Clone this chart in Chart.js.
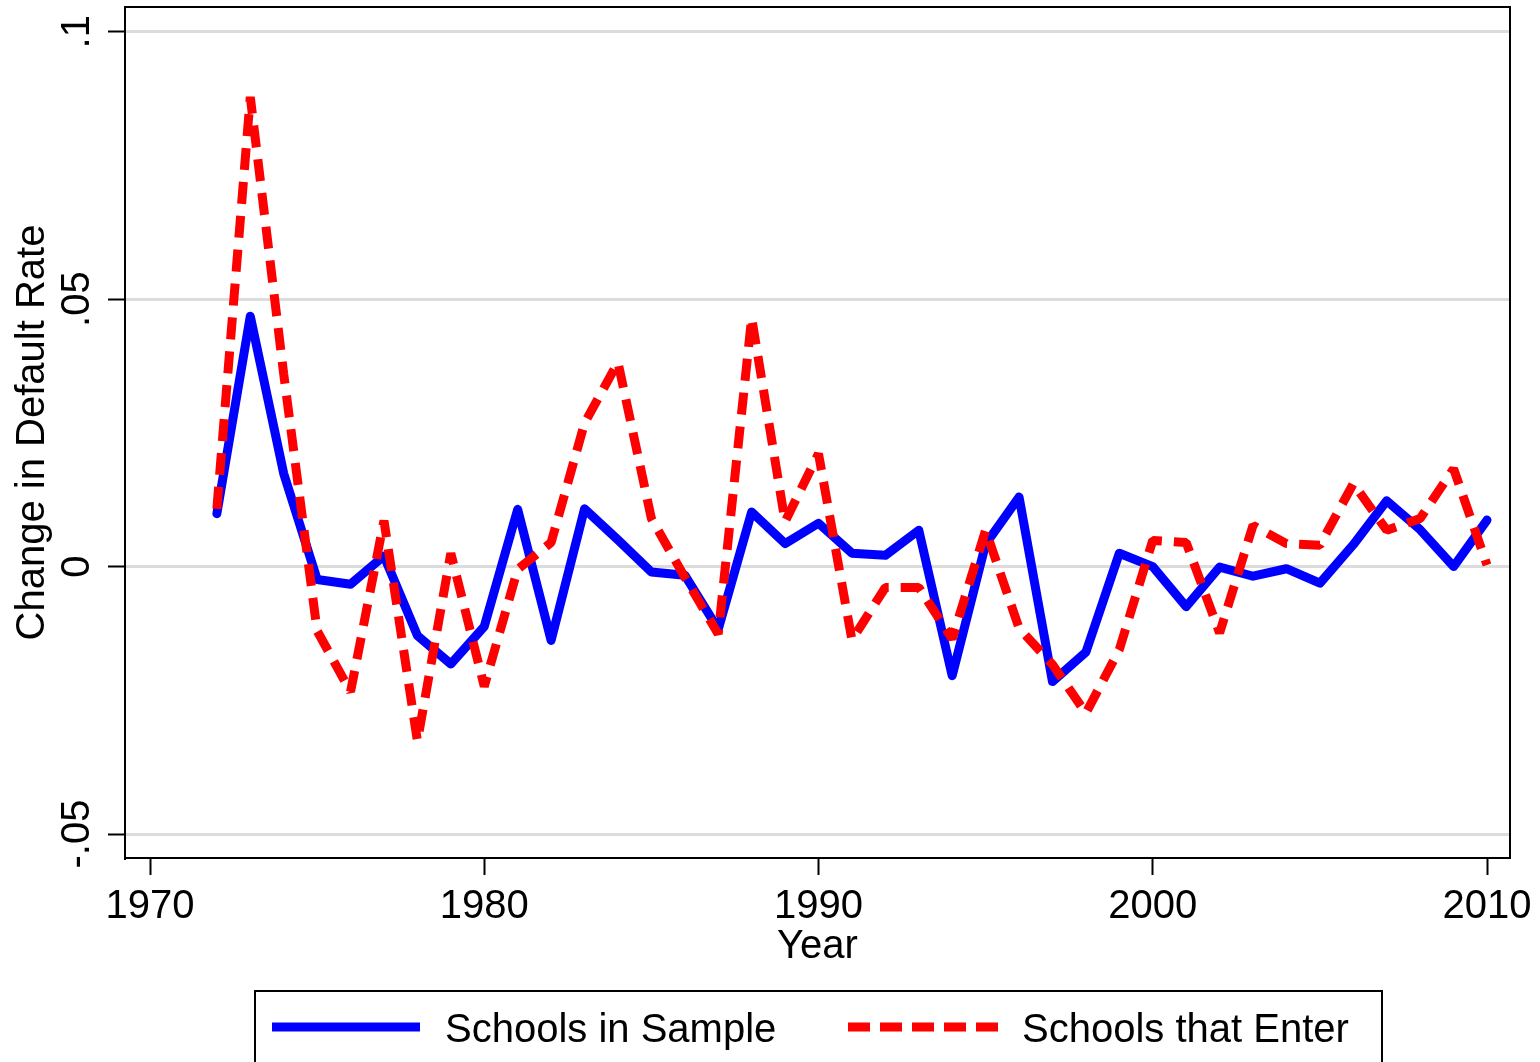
<!DOCTYPE html>
<html>
<head>
<meta charset="utf-8">
<script src="https://cdn.jsdelivr.net/npm/chart.js@4.4.1/dist/chart.umd.min.js"></script>
<style>
html,body{margin:0;padding:0;background:#fff;}
#wrap{width:1540px;height:1062px;}
</style>
</head>
<body>
<div id="wrap"><canvas id="c" width="1540" height="1062"></canvas></div>
<script>
// ---- data ----
const years = [1972,1973,1974,1975,1976,1977,1978,1979,1980,1981,1982,1983,1984,1985,1986,1987,1988,1989,1990,1991,1992,1993,1994,1995,1996,1997,1998,1999,2000,2001,2002,2003,2004,2005,2006,2007,2008,2009,2010];
const sampleValues = [0.0099,0.0468,0.0174,-0.0024,-0.0033,0.0020,-0.0129,-0.0182,-0.0112,0.0107,-0.0138,0.0108,0.0050,-0.0010,-0.0016,-0.0117,0.0102,0.0043,0.0081,0.0025,0.0021,0.0068,-0.0204,0.0042,0.0130,-0.0215,-0.0160,0.0025,0.0000,-0.0075,-0.0001,-0.0018,-0.0004,-0.0031,0.0041,0.0123,0.0069,0.0000,0.0087];
const enterValues = [0.0108,0.0878,0.0360,-0.0120,-0.0234,0.0086,-0.0326,0.0025,-0.0224,-0.0005,0.0045,0.0268,0.0382,0.0090,-0.0020,-0.0126,0.0465,0.0084,0.0211,-0.0137,-0.0039,-0.0039,-0.0135,0.0068,-0.0115,-0.0183,-0.0274,-0.0155,0.0049,0.0045,-0.0124,0.0077,0.0043,0.0040,0.0155,0.0068,0.0090,0.0183,0.0003];
const seriesLabels = ['Schools in Sample','Schools that Enter'];
const xTicks = [1970,1980,1990,2000,2010];
const yTicks = [-0.05,0,0.05,0.1];
const yTickLabels = ['-.05','0','.05','.1'];
const xTitle = 'Year';
const yTitle = 'Change in Default Rate';

// ---- styles ----
const FONT = '"Liberation Sans", Arial, Helvetica, sans-serif';
const FS = 40;
const BLUE = '#0000ff';
const RED = '#ff0000';

const framePlugin = {
  id: 'frameAndLegend',
  afterDraw(chart) {
    const {ctx, chartArea: a} = chart;
    ctx.save();
    ctx.strokeStyle = '#000';
    ctx.lineWidth = 2;
    ctx.setLineDash([]);
    ctx.strokeRect(a.left, a.top, a.right - a.left, a.bottom - a.top);
    // legend box
    ctx.strokeRect(255, 991, 1127, 100);
    // blue sample line
    ctx.lineCap = 'butt';
    ctx.lineWidth = 9;
    ctx.strokeStyle = BLUE;
    ctx.beginPath(); ctx.moveTo(272, 1027); ctx.lineTo(420, 1027); ctx.stroke();
    // red dashed sample
    ctx.strokeStyle = RED;
    ctx.setLineDash([22, 10]);
    ctx.beginPath(); ctx.moveTo(848, 1027); ctx.lineTo(998, 1027); ctx.stroke();
    ctx.setLineDash([]);
    ctx.fillStyle = '#000';
    ctx.font = FS + 'px ' + FONT;
    ctx.textBaseline = 'alphabetic';
    ctx.textAlign = 'left';
    ctx.fillText(seriesLabels[0], 445, 1042);
    ctx.fillText(seriesLabels[1], 1022, 1042);
    ctx.restore();
  }
};

new Chart(document.getElementById('c'), {
  type: 'line',
  data: {
    datasets: [
      {
        label: seriesLabels[0],
        data: years.map((yr, i) => ({x: yr, y: sampleValues[i]})),
        borderColor: BLUE,
        borderWidth: 9,
        pointRadius: 0,
        tension: 0,
        fill: false,
        borderCapStyle: 'round',
        borderJoinStyle: 'round',
        order: 1
      },
      {
        label: seriesLabels[1],
        data: years.map((yr, i) => ({x: yr, y: enterValues[i]})),
        borderColor: RED,
        borderWidth: 9,
        borderDash: [22, 12],
        pointRadius: 0,
        tension: 0,
        fill: false,
        borderCapStyle: 'butt',
        borderJoinStyle: 'bevel',
        order: 0
      }
    ]
  },
  options: {
    responsive: false,
    animation: false,
    devicePixelRatio: 1,
    layout: {padding: {left: 0, top: 7, right: 30, bottom: 77}},
    plugins: {legend: {display: false}, tooltip: {enabled: false}},
    scales: {
      x: {
        type: 'linear',
        min: 1969.252,
        max: 2010.688,
        afterBuildTicks: s => { s.ticks = xTicks.map(v => ({value: v})); },
        afterFit: s => { s.height = 127; s.paddingLeft = 0; s.paddingRight = 0; },
        ticks: {
          font: {family: FONT, size: FS},
          color: '#000',
          padding: 8,
          maxRotation: 0,
          minRotation: 0,
          autoSkip: false,
          callback: v => String(v)
        },
        grid: {drawOnChartArea: false, drawTicks: true, tickLength: 17, tickColor: '#000', tickWidth: 2},
        border: {display: true, color: '#000', width: 2},
        title: {display: true, text: xTitle, color: '#000', font: {family: FONT, size: FS, lineHeight: 1.2}, padding: {top: 0, bottom: 14}}
      },
      y: {
        type: 'linear',
        min: -0.05448,
        max: 0.10462,
        afterBuildTicks: s => { s.ticks = yTicks.map(v => ({value: v})); },
        afterFit: s => { s.width = 125; s.paddingTop = 0; s.paddingBottom = 0; },
        ticks: {
          font: {family: FONT, size: FS},
          color: '#000',
          padding: -4,
          minRotation: 90,
          maxRotation: 90,
          crossAlign: 'center',
          autoSkip: false,
          callback: v => { const k = yTicks.findIndex(t => Math.abs(t - v) < 1e-9); return k >= 0 ? yTickLabels[k] : ''; }
        },
        grid: {color: '#dcdcdc', lineWidth: 3, drawTicks: true, tickLength: 17, tickColor: '#000', tickWidth: 2},
        border: {display: true, color: '#000', width: 2},
        title: {display: true, text: yTitle, color: '#000', font: {family: FONT, size: FS, lineHeight: 1.2}, padding: {top: 9, bottom: 0}}
      }
    }
  },
  plugins: [framePlugin]
});
</script>
</body>
</html>
